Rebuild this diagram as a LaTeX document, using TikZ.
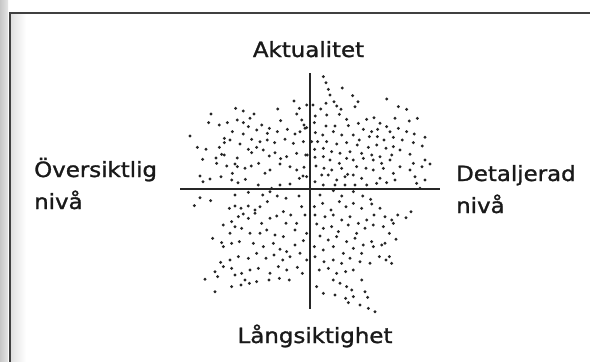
\documentclass[tikz,border=0pt]{standalone}
\usepackage{fontspec}
\setmainfont{DejaVu Sans}
\newfontfamily\lblfont{DejaVu Sans}[FakeBold=1.2]
\newcommand{\wx}[1]{\scalebox{1.09}[1]{#1}}
\begin{document}
\begin{tikzpicture}[x=1pt,y=-1pt,
  lbl/.style={font=\lblfont\fontsize{21}{26}\selectfont, inner sep=0pt, text=black!90},
  axis/.style={line width=2.9pt, draw=black!85},
  frameline/.style={line width=2pt, draw=black!75},
  dot/.style={fill=black!85}]
\useasboundingbox (0,0) rectangle (590,362);
\fill[white] (0,0) rectangle (590,362);
% page shadow on the left
\shade[left color=black!22, right color=black!10] (0,0) rectangle (8,362);
\shade[left color=black!12, right color=white] (11,14) rectangle (26,362);
% frame
\coordinate (ftl) at (10,13);
\coordinate (ftr) at (590,13);
\coordinate (fbl) at (10,362);
\draw[frameline] (ftr) -- (ftl) -- (fbl);
% axes
\coordinate (vtop) at (310,73);
\coordinate (vbot) at (310,309);
\coordinate (hl) at (180,189);
\coordinate (hr) at (440,189);
\draw[axis] (vtop) -- (vbot);
\draw[axis] (hl) -- (hr);
% labels
\node[lbl, anchor=base] (top) at (308.5,57) {\wx{Aktualitet}};
\node[lbl, anchor=base] (bot) at (315,343) {\wx{Långsiktighet}};
\node[lbl, anchor=base west] (left1) at (34,177) {\wx{Översiktlig}};
\node[lbl, anchor=base west] (left2) at (34,209) {\wx{nivå}};
\node[lbl, anchor=base west] (right1) at (456,181) {\wx{Detaljerad}};
\node[lbl, anchor=base west] (right2) at (456,213) {\wx{nivå}};
% dots
\begin{scope}[shift={(180,60)}]
\foreach \p/\q in {
430/50, 438/68, 445/88, 487/84, 450/105, 518/107, 462/125, 534/125, 422/147, 438/130, 470/138, 483/148, 525/140, 620/117, 655/140, 680/148,
406/168, 440/165, 478/163, 500/178, 535/190, 560/178, 582/173, 600/190, 645/175, 688/183, 712/175, 403/188, 438/198, 465/198, 505/197,
550/208, 575/215, 593/208, 620/200, 630/215, 655/205, 680/215, 703/222, 735/232, 406/218, 428/225, 460/215, 485/225, 520/225, 538/240,
568/230, 592/230, 612/240, 640/232, 667/240, 700/248, 395/245, 413/245, 440/245, 470/252, 500/248, 532/255, 565/262, 590/255, 618/265,
640/260, 660/270, 727/258, 404/268, 430/265, 455/275, 480/280, 510/275, 545/280, 575/285, 600/290, 635/285, 690/283, 735/300, 750/312,
405/292, 430/290, 450/300, 478/310, 500/295, 520/300, 550/295, 580/300, 605/310, 630/300, 660/320, 700/310, 726/320, 408/318, 432/325,
455/330, 485/325, 503/343, 530/320, 558/325, 580/330, 610/325, 640/340, 690/330, 705/350, 735/360, 425/345, 445/345, 470/360, 495/350,
520/345, 545/355, 600/355, 620/368, 645/360, 710/370, 405/365, 430/375, 465/375, 495/375, 525/375, 560/375, 590/370, 720/385,
380/135, 380/203, 382/285, 380/350, 399/135,
342/123, 293/147, 358/145, 167/145, 190/153, 93/162, 222/162, 210/175, 172/180, 86/188, 118/195, 142/188, 190/188, 205/200, 245/195,
268/205, 302/182, 350/162, 365/180, 372/195, 30/228, 133/235, 157/215, 190/222, 230/210, 262/220, 292/215, 322/208, 345/222, 360/215,
375/205, 52/262, 78/268, 118/262, 133/248, 150/240, 180/252, 205/268, 215/238, 240/245, 262/240, 284/248, 315/238, 340/250, 370/245,
125/283, 68/298, 108/294, 133/285, 172/294, 215/278, 230/262, 250/270, 268/288, 285/278, 302/296, 320/290, 350/280, 377/285, 60/348,
69/365, 90/357, 123/350, 140/318, 157/340, 172/320, 195/325, 214/318, 236/310, 255/340, 270/330, 300/312, 330/320, 350/330, 372/322,
155/360, 174/368, 196/358, 235/375, 275/385, 300/375, 330/372, 358/355, 369/348, 110/310, 165/312,
60/413, 92/422, 43/437, 165/405, 205/397, 248/405, 270/395, 292/408, 318/415, 357/408, 148/445, 165/438, 183/445, 205/438, 225/450,
240/440, 262/425, 310/455, 332/465, 365/440, 130/495, 155/485, 175/470, 190/462, 205/475, 225/460, 245/490, 270/475, 290/468, 318/490,
350/490, 375/465, 98/535, 125/548, 150/520, 165/500, 185/505, 210/520, 240/520, 260/510, 285/525, 310/530, 345/510, 380/520, 130/560,
155/550, 178/545, 220/550, 250/560, 280/550, 300/568, 320/575, 345/555, 370/542, 122/607, 150/600, 175/590, 205/595, 230/580, 258/595,
282/585, 308/600, 330/590, 360/580, 380/600, 105/635, 130/620, 155/625, 185/640, 210/630, 235/625, 270/640, 295/620, 320/630, 352/622,
75/658, 113/650, 165/645, 195/660, 230/665, 267/660, 298/655, 328/660, 367/640, 105/695, 155/680, 183/675, 208/670,
420/405, 460/392, 485/408, 520/395, 548/408, 572/418, 403/440, 428/430, 453/450, 478/425, 498/440, 520/430, 545/445, 575/432, 600/445,
405/465, 435/470, 460/465, 485/480, 510/470, 535/490, 560/480, 582/465, 615/470, 640/490, 653/465, 678/473, 693/455, 410/492, 430/505,
455/500, 475/515, 505/495, 530/520, 555/505, 580/495, 610/500, 635/480, 420/528, 445/540, 470/530, 500/545, 525/535, 550/555, 575/545,
605/555, 628/520, 648/538, 403/560, 430/570, 460/560, 490/580, 520/565, 545/580, 580/560, 615/550, 405/590, 432/605, 460/600, 485/610,
510/595, 540/605, 570/610, 598/590, 618/600, 635/610, 628/590, 418/630, 445/625, 470/640, 497/635, 520/630, 545/660, 460/660, 480/670,
500/680, 515/690, 410/680, 430/700, 465/705, 497/715, 520/710, 555/695, 563/712, 505/728, 540/735, 565/745, 585/755}
  \fill[dot] ({\p/3},{\q/3}) circle[radius=1.6pt];
\end{scope}
\end{tikzpicture}
\end{document}
